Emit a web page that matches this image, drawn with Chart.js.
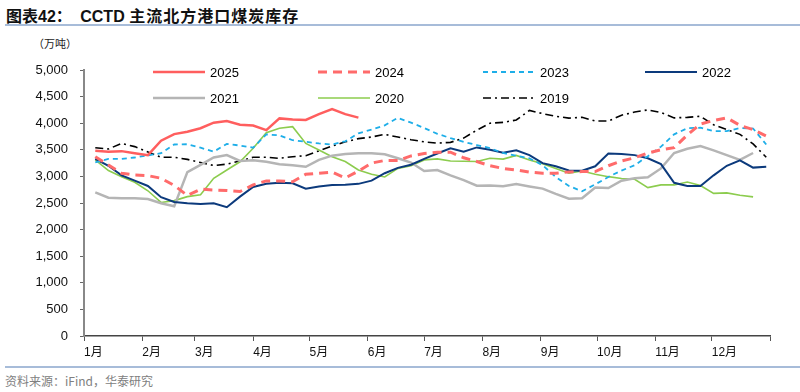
<!DOCTYPE html>
<html lang="zh">
<head>
  <meta charset="UTF-8" />
  <title>CCTD 主流北方港口煤炭库存</title>
  <script src="https://cdn.jsdelivr.net/npm/chart.js"></script>
  <style>
    * { margin: 0; padding: 0; box-sizing: border-box; }
    body { width: 800px; height: 392px; background: #fff; overflow: hidden;
      font-family: 'Liberation Sans', 'Noto Sans CJK SC', sans-serif; }
    .page { position: relative; width: 800px; height: 392px; }
    .title { position: absolute; left: 6px; top: 3px; font-size: 16px; font-weight: 700;
      color: #111; font-family: 'Liberation Sans', 'Noto Sans CJK SC', sans-serif; white-space: nowrap; }
    .title .gap { display: inline-block; width: 4px; }
    .title .cn { letter-spacing: 1px; }
    .rule { position: absolute; left: 5px; right: 0; height: 2px; background: #a7bcd9; }
    .unit { position: absolute; left: 33px; top: 35px; font-size: 11px; color: #222;
      font-family: 'Noto Sans CJK SC', sans-serif; }
    .source { position: absolute; left: 5px; top: 372px; font-size: 12px; color: #808080;
      font-family: 'Noto Sans CJK SC', sans-serif; }
    #chart { position: absolute; left: 0; top: 30px; }
  </style>
</head>
<body>
<div class="page">
  <div class="title">图表42：<span class="gap"></span> CCTD <span class="cn">主流北方港口煤炭库存</span></div>
  <div class="rule" style="top:24px"></div>
  <div class="unit">（万吨）</div>
  <canvas id="chart" width="800" height="334"></canvas>
  <div class="rule" style="top:366px"></div>
  <div class="source">资料来源：iFind，华泰研究</div>
</div>
<script>
  // x positions: day of year for each weekly reading
  const weekDays = [6, 13, 20, 27, 34, 41, 48, 55, 62, 69, 76, 83, 90, 97, 104, 111, 118, 125,
    132, 139, 146, 153, 160, 167, 174, 181, 188, 195, 202, 209, 216, 223, 230, 237, 244, 251,
    258, 265, 272, 279, 286, 293, 300, 307, 314, 321, 328, 335, 342, 349, 356, 363];

  const monthStarts = [0, 31, 59, 90, 120, 151, 181, 212, 243, 273, 304, 334, 365];
  const monthLabels = ['1月', '2月', '3月', '4月', '5月', '6月', '7月', '8月', '9月', '10月', '11月', '12月', ''];

  const y2025 = [3480, 3465, 3475, 3435, 3400, 3670, 3795, 3840, 3905, 4010, 4040, 3970, 3955, 3870,
    4090, 4070, 4060, 4170, 4265, 4170, 4105];

  const y2024 = [3370, 3215, 3060, 3025, 3015, 2965, 2830, 2640, 2760, 2745, 2735, 2715, 2840, 2915,
    2915, 2900, 3040, 3060, 3080, 2970, 3100, 3250, 3300, 3300, 3385, 3430, 3455, 3455, 3350, 3280,
    3200, 3150, 3120, 3080, 3060, 3060, 3085, 3090, 3090, 3200, 3290, 3350, 3440, 3500, 3540, 3780,
    3985, 4050, 4100, 3960, 3880, 3760];

  const y2023 = [3265, 3330, 3330, 3355, 3395, 3435, 3600, 3605, 3540, 3465, 3610, 3580, 3540, 3790,
    3770, 3680, 3650, 3620, 3600, 3660, 3810, 3880, 3960, 4100, 4010, 3910, 3800, 3720, 3650, 3590,
    3530, 3440, 3390, 3340, 3210, 2990, 2820, 2720, 2850, 2990, 3110, 3210, 3380, 3560, 3790, 3905,
    3915, 3850, 3850, 3910, 3900, 3600];

  const y2022 = [3330, 3200, 3020, 2920, 2820, 2610, 2520, 2495, 2480, 2495, 2420, 2620, 2800, 2860,
    2880, 2870, 2770, 2810, 2840, 2845, 2860, 2920, 3060, 3160, 3220, 3330, 3430, 3530, 3465, 3545,
    3500, 3445, 3490, 3400, 3250, 3190, 3110, 3105, 3190, 3430, 3420, 3400, 3340, 3230, 2880, 2820,
    2820, 3020, 3200, 3300, 3165, 3180];

  const y2021 = [2700, 2600, 2590, 2590, 2575, 2495, 2440, 3080, 3215, 3355, 3400, 3290, 3305, 3275,
    3230, 3210, 3180, 3310, 3390, 3420, 3435, 3435, 3415, 3340, 3260, 3100, 3120, 3020, 2930, 2825,
    2830, 2815, 2855, 2810, 2770, 2670, 2580, 2590, 2790, 2780, 2920, 2965, 2985, 3150, 3440, 3520,
    3570, 3490, 3400, 3310, 3440, null];

  const y2020 = [3310, 3110, 2995, 2890, 2730, 2510, 2545, 2620, 2655, 2965, 3120, 3275, 3530, 3820,
    3905, 3935, 3620, 3495, 3370, 3280, 3120, 3040, 2990, 3150, 3200, 3310, 3330, 3290, 3285, 3280,
    3340, 3325, 3395, 3310, 3240, 3150, 3060, 3100, 3040, 2995, 2960, 2945, 2790, 2840, 2840, 2895,
    2830, 2680, 2690, 2645, 2615, null];

  const y2019 = [3540, 3515, 3620, 3560, 3460, 3360, 3360, 3320, 3260, 3205, 3230, 3290, 3360, 3360,
    3340, 3370, 3390, 3480, 3570, 3650, 3710, 3740, 3790, 3740, 3690, 3650, 3625, 3640, 3720, 3870,
    4000, 4015, 4060, 4240, 4180, 4130, 4095, 4110, 4040, 4040, 4150, 4210, 4250, 4200, 4100, 4110,
    4130, 3970, 3880, 3790, 3610, 3360];

  const toPoints = vals => vals.map((v, i) => ({ x: weekDays[i], y: v }));

  const series = [
    { label: '2025', data: y2025, color: '#ff5e5e', width: 2.5, dash: [] },
    { label: '2024', data: y2024, color: '#ff6b6b', width: 3, dash: [9, 6] },
    { label: '2023', data: y2023, color: '#1eaee8', width: 1.8, dash: [5, 4] },
    { label: '2022', data: y2022, color: '#0c3a7c', width: 2, dash: [] },
    { label: '2021', data: y2021, color: '#b5b5b5', width: 2.5, dash: [] },
    { label: '2020', data: y2020, color: '#8ccc4e', width: 1.6, dash: [] },
    { label: '2019', data: y2019, color: '#000000', width: 1.6, dash: [8, 4, 2, 4] }
  ];

  // legend drawn inside the plot, 4 items on the first row and 3 on the second
  const legendCols = [153, 318, 483, 645];
  const legendRows = [42, 68];
  const insideLegend = {
    id: 'insideLegend',
    afterDraw(chart) {
      const ctx = chart.ctx;
      ctx.save();
      chart.data.datasets.forEach((ds, i) => {
        const row = i < 4 ? 0 : 1;
        const col = i < 4 ? i : i - 4;
        const x = legendCols[col];
        const y = legendRows[row];
        ctx.strokeStyle = ds.borderColor;
        ctx.lineWidth = ds.borderWidth;
        ctx.setLineDash(ds.borderDash || []);
        ctx.beginPath();
        ctx.moveTo(x, y);
        ctx.lineTo(x + 52, y);
        ctx.stroke();
        ctx.setLineDash([]);
        ctx.fillStyle = '#000';
        ctx.font = '13px "Liberation Sans", Arial, sans-serif';
        ctx.textBaseline = 'middle';
        ctx.fillText(ds.label, x + 57, y + 1);
      });
      ctx.restore();
    }
  };

  new Chart(document.getElementById('chart'), {
    type: 'line',
    data: {
      datasets: series.map(s => ({
        label: s.label,
        data: toPoints(s.data),
        borderColor: s.color,
        backgroundColor: s.color,
        borderWidth: s.width,
        borderDash: s.dash,
        pointRadius: 0,
        tension: 0,
        fill: false,
        spanGaps: false
      }))
    },
    options: {
      responsive: false,
      animation: false,
      layout: { padding: { top: 40, right: 30, left: 0, bottom: 0 } },
      plugins: { legend: { display: false }, tooltip: { enabled: false } },
      scales: {
        x: {
          type: 'linear',
          min: 0,
          max: 365,
          afterBuildTicks(scale) {
            scale.ticks = monthStarts.map(v => ({ value: v }));
          },
          afterFit(scale) { scale.height = 28; },
          grid: { display: true, drawOnChartArea: false, drawTicks: true, tickLength: 5, color: '#555', lineWidth: 1 },
          border: { display: true, color: '#444', width: 1.5 },
          ticks: {
            autoSkip: false,
            maxRotation: 0,
            align: 'start',
            padding: 4,
            color: '#111',
            font: { size: 12, family: '"Liberation Sans", "Noto Sans CJK SC", sans-serif' },
            callback: (v, i) => monthLabels[i]
          }
        },
        y: {
          min: 0,
          max: 5000,
          afterFit(scale) { scale.width = 84; },
          grid: { display: true, drawOnChartArea: false, drawTicks: true, tickLength: 4, color: '#666', lineWidth: 1 },
          border: { display: true, color: '#888', width: 2 },
          ticks: {
            stepSize: 500,
            padding: 12,
            color: '#111',
            font: { size: 13, family: '"Liberation Sans", Arial, sans-serif' },
            callback: v => v.toLocaleString('en-US')
          }
        }
      }
    },
    plugins: [insideLegend]
  });
</script>
</body>
</html>
